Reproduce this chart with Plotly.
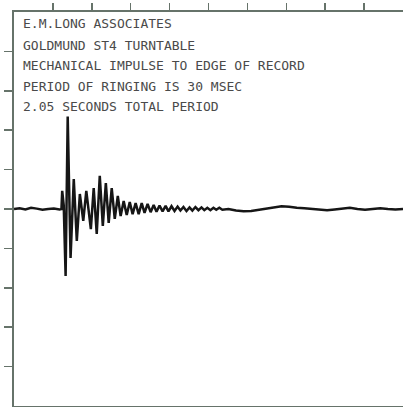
import plotly.graph_objects as go

# Time (seconds) and amplitude (screen divisions)
time_s = [0.000, 0.030, 0.060, 0.090, 0.120, 0.150, 0.180, 0.210, 0.240, 0.250,
          0.254, 0.262, 0.272, 0.283, 0.298, 0.315, 0.331, 0.347, 0.365, 0.381,
          0.405, 0.420, 0.436, 0.452, 0.468, 0.484, 0.499, 0.515, 0.531, 0.547,
          0.562, 0.578, 0.594, 0.610, 0.625, 0.641, 0.657, 0.673, 0.688, 0.704,
          0.720, 0.736, 0.751, 0.767, 0.783, 0.799, 0.814, 0.830, 0.846, 0.862,
          0.877, 0.893, 0.909, 0.925, 0.940, 0.956, 0.972, 0.988, 1.003, 1.019,
          1.035, 1.051, 1.066, 1.082, 1.098, 1.130, 1.170, 1.210, 1.250, 1.290,
          1.330, 1.370, 1.410, 1.450, 1.490, 1.530, 1.570, 1.610, 1.650, 1.690,
          1.730, 1.770, 1.810, 1.850, 1.890, 1.930, 1.970, 2.010, 2.050]
amplitude = [0.00, 0.02, -0.01, 0.03, 0.01, -0.02, 0.00, 0.01, -0.01, 0.00,
             0.46, 0.10, -1.70, 2.35, -1.24, 0.76, -0.81, 0.38, -0.30, 0.46,
             -0.51, 0.53, -0.63, 0.84, -0.43, 0.66, -0.35, 0.53, -0.25, 0.33,
             -0.18, 0.20, -0.15, 0.18, -0.13, 0.15, -0.13, 0.15, -0.10, 0.13,
             -0.08, 0.10, -0.07, 0.09, -0.06, 0.08, -0.06, 0.07, -0.05, 0.06,
             -0.04, 0.05, -0.05, 0.04, -0.04, 0.05, -0.03, 0.04, -0.03, 0.03,
             -0.03, 0.03, -0.02, 0.03, -0.02, 0.00, -0.04, -0.06, -0.05, -0.02,
             0.00, 0.04, 0.07, 0.06, 0.03, 0.02, 0.00, -0.02, -0.03, -0.01,
             0.01, 0.03, 0.00, -0.02, 0.00, 0.02, 0.00, -0.01, 0.00]

x_ticks = [0.205, 0.410, 0.615, 0.820, 1.025, 1.230, 1.435, 1.640, 1.845]
y_ticks = [-4, -3, -2, -1, 0, 1, 2, 3, 4]

notes = ["E.M.LONG ASSOCIATES",
         "GOLDMUND ST4 TURNTABLE",
         "MECHANICAL IMPULSE TO EDGE OF RECORD",
         "PERIOD OF RINGING IS 30 MSEC",
         "2.05 SECONDS TOTAL PERIOD"]
note_y = [0.972, 0.916, 0.865, 0.812, 0.759]

frame = "#66736a"

fig = go.Figure()
fig.add_trace(go.Scatter(x=time_s, y=amplitude, mode="lines",
                         line=dict(color="#161616", width=2.5),
                         hoverinfo="skip", showlegend=False))

for txt, yy in zip(notes, note_y):
    fig.add_annotation(text=txt, xref="paper", yref="paper", x=0.018, y=yy,
                       xanchor="left", yanchor="middle", showarrow=False,
                       font=dict(family="DejaVu Sans Mono", size=13, color="#4a4a4a"))

fig.update_layout(
    width=403, height=407, autosize=False,
    margin=dict(l=14, r=0, t=12, b=1, pad=0, autoexpand=False),
    paper_bgcolor="white", plot_bgcolor="white",
    xaxis=dict(range=[0, 2.05], side="top", showgrid=False, zeroline=False,
               showline=True, mirror=True, linecolor=frame, linewidth=2,
               ticks="outside", ticklen=7, tickwidth=1.5, tickcolor=frame,
               tickvals=x_ticks, showticklabels=False, automargin=False),
    yaxis=dict(range=[-5, 5], showgrid=False, zeroline=False,
               showline=True, mirror=True, linecolor=frame, linewidth=2,
               ticks="outside", ticklen=8, tickwidth=1.5, tickcolor=frame,
               tickvals=y_ticks, showticklabels=False, automargin=False),
)

fig.write_html("out.html", config={"displayModeBar": False, "staticPlot": True},
               post_script="document.body.style.margin='0px';document.body.style.overflow='hidden';")
